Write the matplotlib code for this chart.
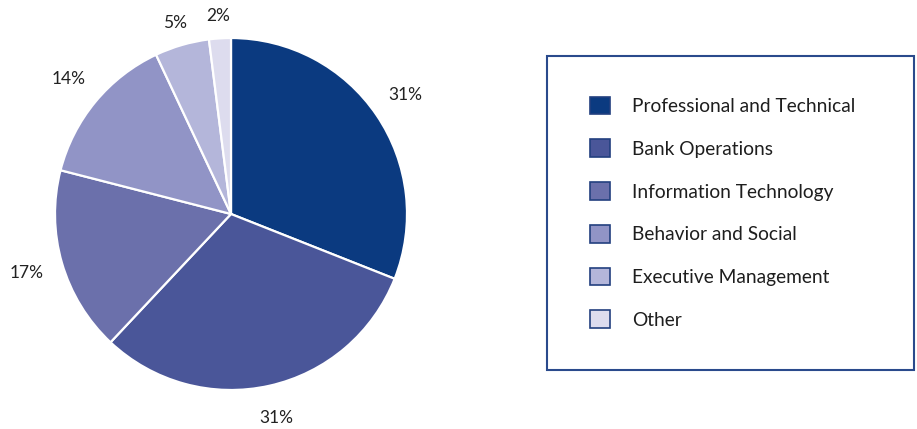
import matplotlib
matplotlib.use("Agg")
import matplotlib.pyplot as plt
import numpy as np
from matplotlib.patches import Patch, Rectangle

categories = ["Professional and Technical", "Bank Operations", "Information Technology",
              "Behavior and Social", "Executive Management", "Other"]
values = [31, 31, 17, 14, 5, 2]
colors = ["#0b3a80", "#4a5699", "#6b70ab", "#9194c6", "#b4b6da", "#dddcee"]
label_dist = [1.2, 1.19, 1.21, 1.2, 1.13, 1.13]

plt.rcParams['font.family'] = ['Lato', 'DejaVu Sans']

W, H = 917, 429
fig = plt.figure(figsize=(W / 100, H / 100), dpi=100)
cx, cy, r = 231, 214, 176
ax = fig.add_axes([(cx - r) / W, (H - cy - r) / H, 2 * r / W, 2 * r / H])
wedges, texts, autotexts = ax.pie(
    values, colors=colors, startangle=90, counterclock=False, radius=1,
    autopct=lambda p: f"{p:.0f}%", pctdistance=1.0,
    wedgeprops=dict(edgecolor="white", linewidth=1.6),
    textprops=dict(fontsize=12.5, color="#222222"))
for t, d in zip(autotexts, label_dist):
    x, y = t.get_position()
    t.set_position((x * d, y * d))
ax.set_xlim(-1, 1)
ax.set_ylim(-1, 1)
ax.set_aspect("equal")
ax.axis("off")

# legend frame
fig.patches.append(Rectangle((547 / W, 1 - 370 / H), (914 - 547) / W, (370 - 56) / H,
                             transform=fig.transFigure, fill=False,
                             edgecolor="#2a4a8c", linewidth=1.5))

handles = [Patch(facecolor=c, edgecolor="#23407f", linewidth=1.2) for c in colors]
fig.legend(handles, categories, loc="upper left",
           bbox_to_anchor=(580 / W, 1 - 87 / H), frameon=False, borderpad=0,
           fontsize=13.8, handlelength=1.05, handleheight=1.05, handletextpad=1.15,
           labelspacing=1.27, labelcolor="#1e1e1e")

fig.savefig("out.png", dpi=100, facecolor="white")
